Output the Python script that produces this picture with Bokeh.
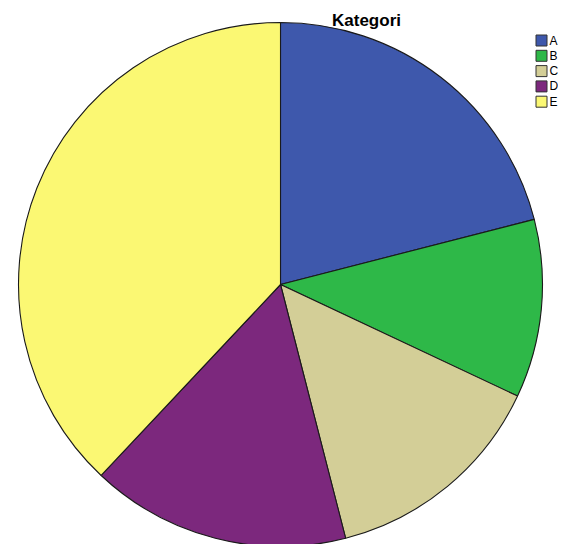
import math
from bokeh.plotting import figure
from bokeh.models import Range1d
from bokeh.core.properties import value
from bokeh.embed import file_html
from bokeh.resources import INLINE

# Data
categories = ["A", "B", "C", "D", "E"]
counts = [21, 11, 14, 16, 38]
colors = ["#3E58AC", "#2EB848", "#D3CE97", "#7C287D", "#FBF873"]
title_text = "Kategori"

W, H = 558, 544
p = figure(width=W, height=H, output_backend="svg", toolbar_location=None,
           x_range=Range1d(0, W), y_range=Range1d(-H, 0),
           min_border=0, outline_line_color=None)
p.axis.visible = False
p.grid.visible = False
p.background_fill_color = "white"
p.border_fill_color = "white"

# pie layout (pixel-like coordinates: x = image x, y = -image y)
cx, cy, r = 280, -284, 262
total = float(sum(counts))
starts, ends = [], []
cum = 0.0
for c in counts:
    starts.append(math.pi / 2 - 2 * math.pi * cum / total)
    cum += c
    ends.append(math.pi / 2 - 2 * math.pi * cum / total)

p.wedge(x=cx, y=cy, radius=r, start_angle=starts, end_angle=ends,
        direction="clock", fill_color=colors, line_color="#1a1a1a",
        line_width=1.1)

# title
p.text(x=[366], y=[-20], text=[title_text], text_font=value("Liberation Sans"),
       text_font_style="bold", text_font_size="17px", text_align="center",
       text_baseline="alphabetic", text_color="#000000")

# legend
lx, ly0, dy = 541, -40, -15.3
ly = [ly0 + dy * i for i in range(len(categories))]
p.rect(x=[lx] * len(categories), y=ly, width=11, height=11,
       fill_color=colors, line_color="#333333", line_width=1)
p.text(x=[lx + 8] * len(categories), y=ly, text=categories,
       text_font=value("Liberation Sans"), text_font_size="12px",
       text_align="left", text_baseline="middle", text_color="#000000")

open("out.html", "w").write(file_html(p, INLINE))
